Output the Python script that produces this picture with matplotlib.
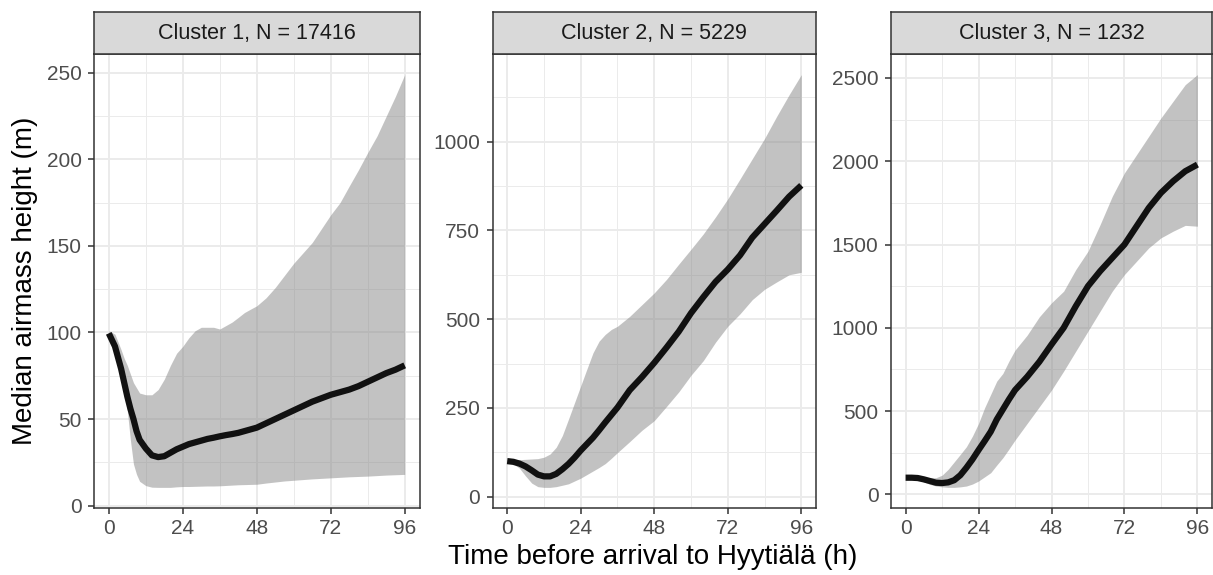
import matplotlib
matplotlib.use("Agg")
import matplotlib.pyplot as plt
import numpy as np

plt.rcParams['font.family'] = ['Liberation Sans', 'DejaVu Sans']

# --- data ---
titles = ["Cluster 1, N = 17416", "Cluster 2, N = 5229", "Cluster 3, N = 1232"]

hours1 = [0, 2, 4, 5, 6, 7, 8, 9, 10, 12, 14, 16, 18, 20, 22, 24, 26, 28, 30, 32, 34, 36, 38, 40,
          42, 44, 46, 48, 51, 54, 57, 60, 63, 66, 69, 72, 75, 78, 81, 84, 87, 90, 93, 96]
median1 = [99.5, 92, 79, 71, 63, 56, 50, 43, 38, 33, 29, 28, 28.5, 30.5, 32.5, 34, 35.5, 36.5, 37.5,
           38.5, 39.2, 40, 40.7, 41.3, 42, 43, 44, 45, 47.5, 50, 52.5, 55, 57.5, 60, 62, 64, 65.5,
           67, 69, 71.5, 74, 76.5, 78.5, 81]
lower1 = [98, 91, 77, 68, 55, 38, 24, 18, 14, 11.5, 10.6, 10.5, 10.5, 10.5, 10.8, 11, 11, 11.1, 11.2,
          11.3, 11.3, 11.4, 11.6, 11.8, 12, 12.1, 12.2, 12.3, 13, 13.6, 14.2, 14.6, 15, 15.4, 15.7,
          16, 16.3, 16.6, 16.8, 17, 17.3, 17.6, 17.8, 18]
upper1 = [101, 99, 90, 85, 81, 76, 71, 68, 65, 64, 64, 67, 73, 81, 88, 92, 97, 101, 103, 103, 103,
          102, 104, 106, 108.7, 111.5, 113.5, 115.4, 120, 126, 133, 140, 146, 152, 160, 168, 175,
          184.6, 194, 204, 213.5, 225, 236.5, 249]

hours2 = [0, 2, 4, 6, 8, 10, 12, 14, 16, 18, 20, 22, 24, 26, 28, 30, 32, 34, 36, 40, 44, 48, 52,
          56, 60, 64, 68, 72, 76, 80, 84, 88, 92, 96]
median2 = [100, 98, 93, 85, 74, 62, 57, 57, 64, 77, 92, 110, 130, 148, 166, 187, 209, 230, 251, 300,
           337, 377, 420, 465, 517, 562, 605, 640, 680, 730, 768, 806, 845, 877]
lower2 = [96, 92, 80, 58, 38, 28, 26, 26, 28, 32, 36, 44, 52, 62, 72, 82, 93, 108, 124, 155, 187,
          214, 254, 295, 342, 383, 435, 480, 515, 555, 584, 605, 625, 632]
upper2 = [105, 104, 104, 105, 106, 107, 111, 120, 139, 172, 218, 265, 312, 359, 405, 438, 457, 471,
          480, 508, 541, 574, 612, 655, 697, 740, 788, 839, 895, 952, 1009, 1072, 1132, 1189]

hours3 = [0, 2, 4, 6, 8, 10, 12, 14, 16, 18, 20, 22, 24, 26, 28, 30, 32, 34, 36, 40, 44, 48, 52,
          56, 60, 64, 68, 72, 76, 80, 84, 88, 92, 96]
median3 = [100, 100, 98, 90, 80, 70, 68, 72, 85, 115, 160, 210, 266, 320, 376, 450, 510, 570, 626,
           706, 796, 900, 1000, 1130, 1250, 1340, 1420, 1500, 1610, 1720, 1810, 1880, 1940, 1980]
lower3 = [95, 95, 90, 75, 60, 50, 45, 42, 42, 45, 50, 62, 80, 105, 130, 176, 220, 272, 326, 426,
          526, 626, 740, 860, 980, 1100, 1220, 1320, 1400, 1480, 1540, 1580, 1615, 1610]
upper3 = [105, 105, 105, 102, 100, 100, 115, 150, 195, 240, 286, 350, 426, 520, 600, 680, 726, 800,
          866, 956, 1066, 1150, 1220, 1350, 1460, 1620, 1790, 1930, 2040, 2150, 2260, 2360, 2460, 2520]

x_ticks = [0, 24, 48, 72, 96]
y_ticks = [[0, 50, 100, 150, 200, 250],
           [0, 250, 500, 750, 1000],
           [0, 500, 1000, 1500, 2000, 2500]]

panels = [(hours1, median1, lower1, upper1),
          (hours2, median2, lower2, upper2),
          (hours3, median3, lower3, upper3)]

# --- layout in pixels ---
W, H = 1213, 575
fig = plt.figure(figsize=(W / 100, H / 100), dpi=100)
lefts = [94, 492.5, 891]
rights = [419.5, 816, 1212]
top, bottom, strip_top = 54, 508, 12

for i, (t, med, lo, hi) in enumerate(panels):
    l, r = lefts[i], rights[i]
    ax = fig.add_axes([l / W, (H - bottom) / H, (r - l) / W, (bottom - top) / H])
    ax.set_facecolor('white')

    # ribbon + median line
    ax.fill_between(t, lo, hi, color='#7F7F7F', alpha=0.47, linewidth=0, zorder=2)
    ax.plot(t, med, color='#111111', linewidth=4.5, zorder=3, solid_capstyle='butt')

    # ggplot-like 5% expansion
    ymin, ymax = min(lo), max(hi)
    pad = 0.05 * (ymax - ymin)
    ax.set_ylim(ymin - pad, ymax + pad)
    ax.set_xlim(-4.8, 100.8)

    ax.set_xticks(x_ticks)
    ax.set_xticks([12, 36, 60, 84], minor=True)
    yt = y_ticks[i]
    ax.set_yticks(yt)
    step = yt[1] - yt[0]
    ax.set_yticks(np.arange(step / 2, ymax + pad, step), minor=True)

    ax.grid(which='major', color='#EBEBEB', linewidth=1.4, zorder=0)
    ax.grid(which='minor', color='#EBEBEB', linewidth=0.7, zorder=0)
    ax.set_axisbelow(True)

    ax.tick_params(which='major', length=4, width=1.1, color='#333333',
                   labelsize=15, labelcolor='#4D4D4D')
    ax.tick_params(axis='x', which='major', pad=3.8)
    ax.tick_params(axis='y', which='major', pad=5)
    ax.tick_params(which='minor', length=0)
    for s in ax.spines.values():
        s.set_color('#333333')
        s.set_linewidth(1.1)

    # facet strip
    sax = fig.add_axes([l / W, (H - top) / H, (r - l) / W, (top - strip_top) / H])
    sax.set_facecolor('#D9D9D9')
    sax.set_xticks([])
    sax.set_yticks([])
    for s in sax.spines.values():
        s.set_color('#333333')
        s.set_linewidth(1.1)
    sax.text(0.5, 0.5, titles[i], ha='center', va='center', fontsize=15.5,
             color='#1A1A1A', transform=sax.transAxes)

fig.text(25 / W, 1 - ((top + bottom) / 2) / H, "Median airmass height (m)",
         rotation=90, ha='center', va='center', fontsize=20)
fig.text(((lefts[0] + rights[2]) / 2) / W, 1 - 557 / H, "Time before arrival to Hyytiälä (h)",
         ha='center', va='center', fontsize=20)

plt.savefig("out.png", dpi=100)
plt.close()
